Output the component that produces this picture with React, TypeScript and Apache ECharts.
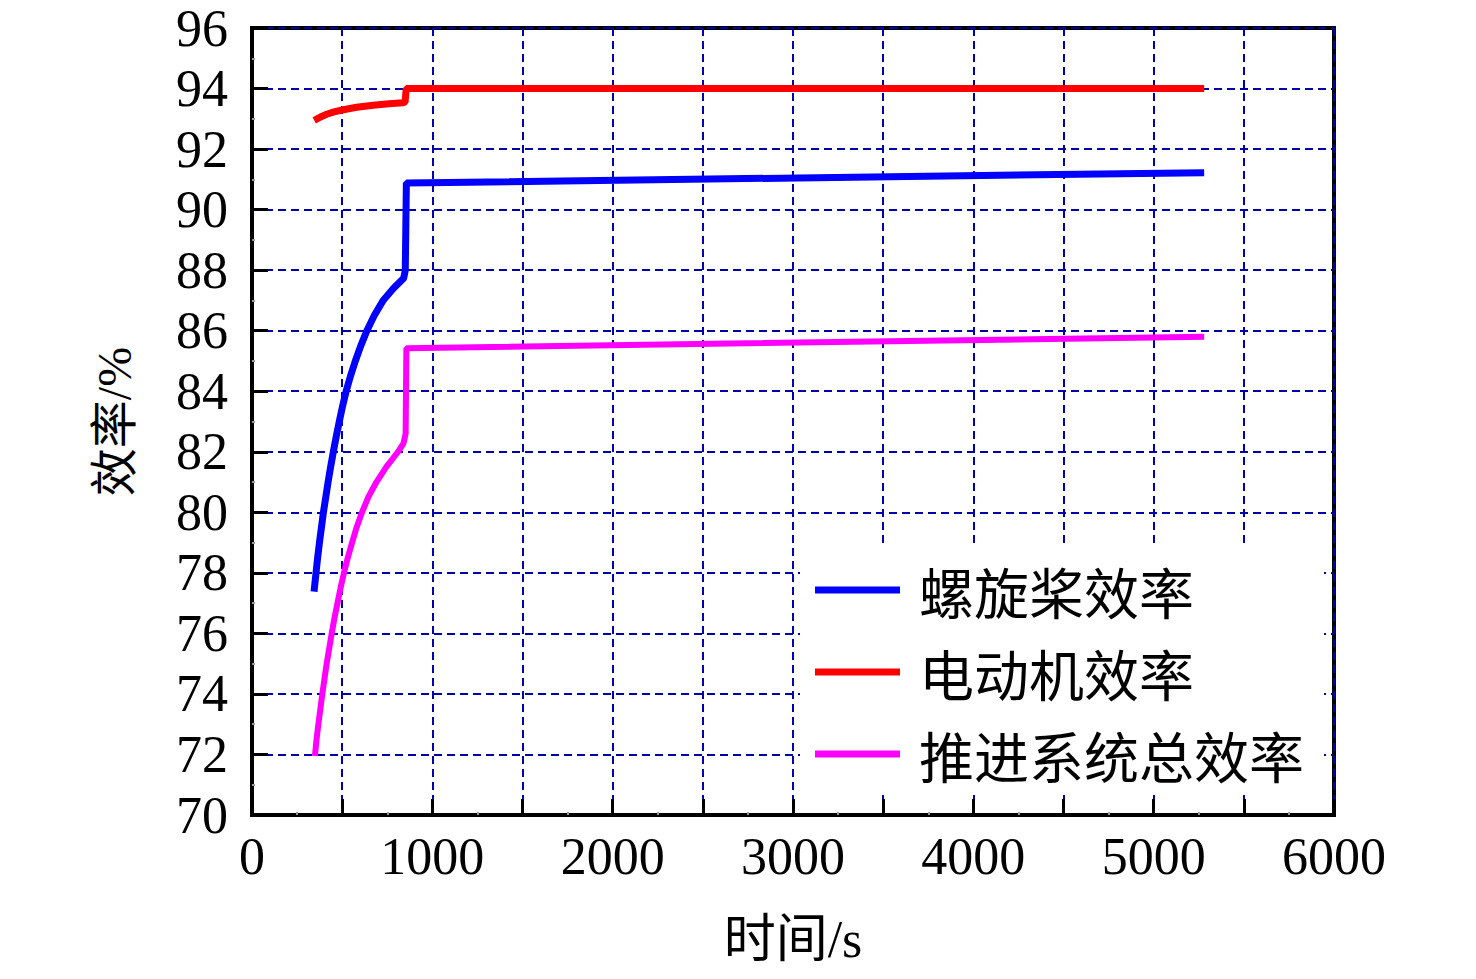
import React, { useEffect, useRef } from "react";
import * as echarts from "echarts";

// Data
const seriesNames = ["螺旋桨效率", "电动机效率", "推进系统总效率"];

const propTime = [344, 355, 364, 374, 385, 396, 409, 422, 436, 451, 467, 484, 502, 522, 546, 573, 603, 637, 678, 727, 785, 841, 850, 856, 5280];
const propEff = [77.38, 78, 78.5, 79, 79.5, 80, 80.5, 81, 81.5, 82, 82.5, 83, 83.5, 84, 84.5, 85, 85.5, 86, 86.5, 87, 87.4, 87.73, 88.0, 90.88, 91.22];

const motorTime = [345, 380, 414, 455, 500, 580, 672, 760, 838, 849, 855, 5280];
const motorEff = [92.95, 93.06, 93.15, 93.23, 93.29, 93.38, 93.45, 93.5, 93.53, 93.55, 94.0, 94.0];

const totalTime = [349, 358, 368, 379, 390, 402, 414, 428, 442, 457, 474, 491, 510, 531, 555, 580, 610, 645, 690, 745, 810, 840, 852, 856, 5280];
const totalEff = [71.95, 72.5, 73, 73.5, 74, 74.5, 75, 75.5, 76, 76.5, 77, 77.5, 78, 78.5, 79, 79.5, 80, 80.5, 81, 81.5, 82, 82.28, 82.6, 85.42, 85.8];

const xMin = 0;
const xMax = 6000;
const xStep = 500;
const yMin = 70;
const yMax = 96;
const yStep = 2;

const colors = ["#0000FF", "#FF0000", "#FF00FF"];

const pair = (t: number[], v: number[]) => t.map((x, i) => [x, v[i]]);

const FONT = "'Liberation Serif', 'Times New Roman', 'Noto Sans CJK SC', serif";
const CJK = "'Noto Sans CJK SC', 'Liberation Serif', serif";

export default function App() {
  const ref = useRef<HTMLDivElement>(null);

  useEffect(() => {
    if (!ref.current) return;
    const chart = echarts.init(ref.current, undefined, { renderer: "svg" });
    const gridLine = {
      show: true,
      lineStyle: { color: "#0000A8", width: 2, type: [8, 5] as any },
    };
    const option: any = {
      animation: false,
      backgroundColor: "#fff",
      grid: {
        left: 252,
        right: 142,
        top: 28,
        bottom: 164,
        show: true,
        borderColor: "#000",
        borderWidth: 4,
        backgroundColor: "transparent",
      },
      legend: {
        orient: "vertical",
        left: 800,
        top: 548,
        backgroundColor: "#fff",
        padding: [12, 20, 10, 15],
        itemWidth: 85,
        itemHeight: 7,
        itemGap: 22,
        icon: "rect",
        textStyle: {
          fontFamily: CJK,
          fontSize: 55,
          color: "#000",
          lineHeight: 60,
          padding: [0, 0, 0, 14],
        },
        data: seriesNames,
      },
      xAxis: {
        type: "value",
        min: xMin,
        max: xMax,
        interval: xStep,
        name: "时间/s",
        nameLocation: "middle",
        nameGap: 98,
        nameTextStyle: { fontFamily: FONT, fontSize: 52, color: "#000" },
        axisLine: { show: true, lineStyle: { color: "#000", width: 4 } },
        axisTick: { show: true, inside: true, length: 16, lineStyle: { color: "#000", width: 3 } },
        minorTick: { show: true, splitNumber: 2, length: 3, lineStyle: { color: "#999", width: 2 } },
        axisLabel: {
          fontFamily: FONT,
          fontSize: 52,
          color: "#000",
          margin: 15,
          formatter: (v: number) => (v % 1000 === 0 ? String(v) : ""),
        },
        splitLine: gridLine,
      },
      yAxis: {
        type: "value",
        min: yMin,
        max: yMax,
        interval: yStep,
        name: "效率/%",
        nameLocation: "middle",
        nameRotate: 90,
        nameGap: 114,
        nameTextStyle: { fontFamily: FONT, fontSize: 48, color: "#000" },
        axisLine: { show: true, lineStyle: { color: "#000", width: 4 } },
        axisTick: { show: true, inside: true, length: 16, lineStyle: { color: "#000", width: 3 } },
        minorTick: { show: true, splitNumber: 2, length: 3, lineStyle: { color: "#999", width: 2 } },
        axisLabel: { fontFamily: FONT, fontSize: 52, color: "#000", margin: 24 },
        splitLine: gridLine,
      },
      series: [
        {
          name: seriesNames[0],
          type: "line",
          data: pair(propTime, propEff),
          showSymbol: false,
          symbol: "none",
          color: colors[0],
          lineStyle: { color: colors[0], width: 7 },
          z: 3,
        },
        {
          name: seriesNames[1],
          type: "line",
          data: pair(motorTime, motorEff),
          showSymbol: false,
          symbol: "none",
          color: colors[1],
          lineStyle: { color: colors[1], width: 7 },
          z: 3,
        },
        {
          name: seriesNames[2],
          type: "line",
          data: pair(totalTime, totalEff),
          showSymbol: false,
          symbol: "none",
          color: colors[2],
          lineStyle: { color: colors[2], width: 6 },
          z: 3,
        },
      ],
    };
    chart.setOption(option);
    return () => chart.dispose();
  }, []);

  return (
    <div
      ref={ref}
      style={{ position: "fixed", left: 0, top: 0, width: 1476, height: 979, background: "#fff" }}
    />
  );
}
